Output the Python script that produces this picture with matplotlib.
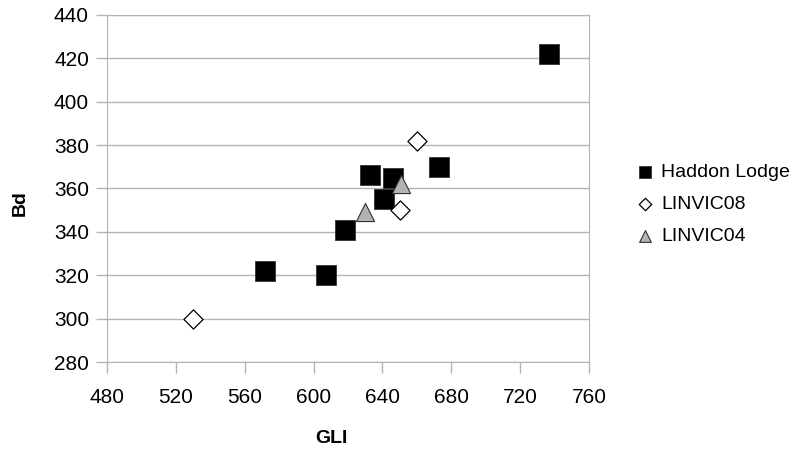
import matplotlib
matplotlib.use("Agg")
import matplotlib.pyplot as plt

plt.rcParams['font.family'] = ['Liberation Sans', 'DejaVu Sans']

# data
haddon_x = [737, 673, 633, 646, 641, 618, 572, 607]
haddon_y = [422, 370, 366, 365, 355, 341, 322, 320]
linvic08_x = [530, 660, 650]
linvic08_y = [300, 382, 350]
linvic04_x = [630, 651]
linvic04_y = [349, 362]

x_ticks = [480, 520, 560, 600, 640, 680, 720, 760]
y_ticks = [280, 300, 320, 340, 360, 380, 400, 420, 440]

fig = plt.figure(figsize=(8.04, 4.51), dpi=100)
ax = fig.add_axes([107 / 804, 89 / 451, 482 / 804, 347 / 451])

ax.scatter(haddon_x, haddon_y, marker='s', s=200, c='black', edgecolors='#333333',
           linewidths=0.6, label='Haddon Lodge', zorder=3)
ax.scatter(linvic08_x, linvic08_y, marker='D', s=95, c='white', edgecolors='black',
           linewidths=0.9, label='LINVIC08', zorder=3)
ax.scatter(linvic04_x, linvic04_y, marker='^', s=170, c='#b3b3b3', edgecolors='#333333',
           linewidths=0.8, label='LINVIC04', zorder=3)

ax.set_xlim(480, 760)
ax.set_ylim(280, 440)
ax.set_xticks(x_ticks)
ax.set_yticks(y_ticks)
ax.tick_params(labelsize=15, length=8, color='#b3b3b3', width=1)
ax.tick_params(axis='x', pad=11)
ax.tick_params(axis='y', pad=5)
ax.grid(axis='y', color='#b3b3b3', linewidth=1)
ax.set_axisbelow(True)
for sp in ax.spines.values():
    sp.set_color('#b3b3b3')

ax.set_xlabel('GLI', fontsize=14, fontweight='bold')
ax.set_ylabel('Bd', fontsize=14, fontweight='bold')
ax.xaxis.set_label_coords(0.465, -0.195)
ax.yaxis.set_label_coords(-0.163, 0.458)

ax.legend(loc='center left', bbox_to_anchor=(635 / 804, 247 / 451),
          bbox_transform=fig.transFigure, frameon=False, fontsize=14, borderpad=0,
          borderaxespad=0, markerscale=0.65, handletextpad=0.34, labelspacing=0.73,
          handlelength=1.0)

fig.savefig('out.png', dpi=100)
